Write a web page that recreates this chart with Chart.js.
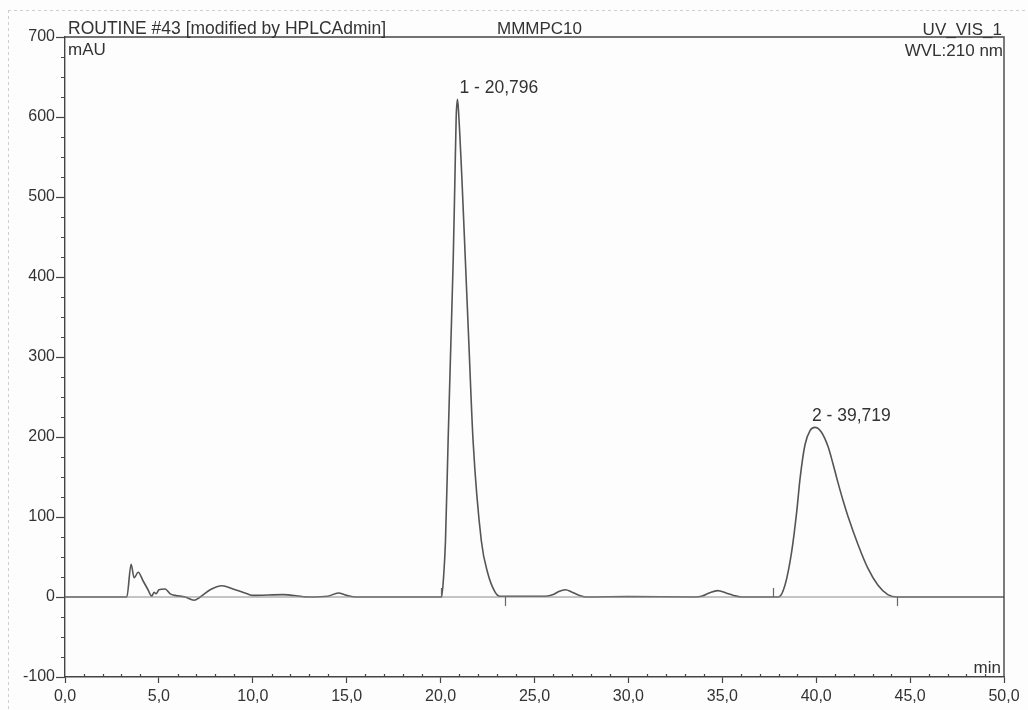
<!DOCTYPE html>
<html lang="en">
<head>
<meta charset="UTF-8" />
<title>ROUTINE #43 - MMMPC10</title>
<style>
  * { box-sizing: border-box; }
  html, body {
    margin: 0; padding: 0;
    background: #fdfdfd;
  }
  #wrap {
    position: relative;
    width: 1028px;
    height: 710px;
  }
</style>
</head>
<body>
<div id="wrap">
  <canvas id="chromChart" width="1028" height="710"></canvas>
</div>

<script src="https://cdn.jsdelivr.net/npm/chart.js"></script>
<script>
// retention time (min) and detector signal (mAU)
const retentionMin = [0, 3.29, 3.52, 3.68, 3.9, 4.16, 4.4, 4.62, 4.74, 4.85,
  5.0, 5.33, 5.6, 5.86, 6.4, 6.87, 7.2, 7.73, 8.36, 8.95,
  9.7, 10.0, 11.6, 13.0, 14.0, 14.55, 15.0, 15.5, 20.05, 20.17,
  20.26, 20.4, 20.55, 20.67, 20.76, 20.83, 20.9, 20.96, 21.14, 21.32,
  21.5, 21.73, 22.17, 22.52, 22.88, 23.14, 25.6, 26.0, 26.3, 26.65,
  27.0, 27.4, 27.8, 30.0, 33.5, 33.9, 34.3, 34.75, 35.2, 35.6,
  36.0, 38.0, 38.34, 38.69, 38.96, 39.14, 39.4, 39.67, 39.93, 40.28,
  40.63, 40.9, 41.16, 41.45, 41.69, 42.22, 42.75, 43.28, 43.81, 44.34, 50.0];
const signalMAU = [0, 0, 41, 24, 31, 20, 10, 1, 6, 4,
  9, 10, 4, 2, 0, -4, 0, 9, 14, 10,
  4, 2, 3, 0, 1, 5, 2, 0, 0, 29,
  70, 195, 320, 420, 520, 600, 622, 605, 520, 420,
  320, 195, 70, 29, 7, 1, 1, 3, 7, 9,
  6, 2, 0, 0.5, 0, 1, 5, 8, 5, 2,
  0, 0, 15, 56, 106, 148, 190, 208, 212, 206,
  188, 166, 143, 119, 101, 66, 36, 15, 3, 0, 0];

// zero line under the whole run
const zeroLineX = [0, 50];
const zeroLineY = [0, 0];

// peaks
const peakTimes = [20.9, 39.93];
const peakHeights = [622, 212];
const peakLabels = ['1 - 20,796', '2 - 39,719'];

// integration start / end markers
const markerTimes = [20.0, 23.45, 37.7, 44.3];
const markerUp = [true, false, true, false];

// axes
const xMin = 0, xMax = 50, xMajorStep = 5, xMinorStep = 1;
const yMin = -100, yMax = 700, yMajorStep = 100, yMinorStep = 25;

const headerLeft = 'ROUTINE #43 [modified by HPLCAdmin]';
const headerMid = 'MMMPC10';
const headerRight = 'UV_VIS_1';
const wavelength = 'WVL:210 nm';
const yUnit = 'mAU';
const xUnit = 'min';

const INK = '#444';
const FAMILY = '"Liberation Sans", Arial, sans-serif';

// frame, minor ticks, header texts, peak labels and markers
const chromDecor = {
  id: 'chromDecor',
  beforeDraw(chart) {
    const c = chart.ctx;
    c.save();
    c.fillStyle = '#fdfdfd';
    c.fillRect(0, 0, chart.width, chart.height);
    // scanned page edge
    c.strokeStyle = '#cfcfcf';
    c.lineWidth = 1;
    c.setLineDash([3, 3]);
    c.beginPath();
    c.moveTo(8, 10.5); c.lineTo(chart.width, 10.5);
    c.moveTo(8.5, 10); c.lineTo(8.5, chart.height);
    c.stroke();
    c.restore();
  },
  afterDraw(chart) {
    const c = chart.ctx;
    const a = chart.chartArea;
    const xs = chart.scales.x, ys = chart.scales.y;
    c.save();

    // top and right frame
    c.strokeStyle = INK;
    c.lineWidth = 1.4;
    c.beginPath();
    c.moveTo(a.left, a.top); c.lineTo(a.right, a.top); c.lineTo(a.right, a.bottom);
    c.stroke();

    // minor ticks
    c.lineWidth = 1.2;
    c.beginPath();
    for (let v = xMin; v <= xMax; v += xMinorStep) {
      if (v % xMajorStep === 0) continue;
      const px = Math.round(xs.getPixelForValue(v)) + 0.5;
      c.moveTo(px, a.bottom); c.lineTo(px, a.bottom - 3);
    }
    for (let v = yMin; v <= yMax; v += yMinorStep) {
      if (v % yMajorStep === 0) continue;
      const py = Math.round(ys.getPixelForValue(v)) + 0.5;
      c.moveTo(a.left, py); c.lineTo(a.left - 4, py);
    }
    c.stroke();

    // integration markers
    c.strokeStyle = '#666';
    c.lineWidth = 1.2;
    c.beginPath();
    markerTimes.forEach((t, i) => {
      const px = Math.round(xs.getPixelForValue(t)) + 0.5;
      const py = ys.getPixelForValue(0);
      c.moveTo(px, py);
      c.lineTo(px, markerUp[i] ? py - 9 : py + 9);
    });
    c.stroke();

    // texts
    c.fillStyle = '#333';
    c.textBaseline = 'alphabetic';
    c.textAlign = 'left';
    c.font = '17.5px ' + FAMILY;
    c.fillText(headerLeft, 68, 34);
    c.font = '17px ' + FAMILY;
    c.fillText(headerMid, 497, 34);
    c.fillText(yUnit, a.left + 3, 55);
    c.textAlign = 'right';
    c.fillText(headerRight, a.right - 2, 35);
    c.fillText(wavelength, a.right - 1, 56);
    c.fillText(xUnit, a.right - 3, a.bottom - 4);

    // peak labels
    c.textAlign = 'left';
    c.font = '17.5px ' + FAMILY;
    peakTimes.forEach((t, i) => {
      const px = xs.getPixelForValue(t);
      const py = ys.getPixelForValue(peakHeights[i]);
      c.fillText(peakLabels[i], px + (i === 0 ? 2 : -3), py - 6);
    });
    c.restore();
  }
};

const ctx = document.getElementById('chromChart').getContext('2d');

new Chart(ctx, {
  type: 'line',
  data: {
    datasets: [
      {
        label: 'zero',
        data: zeroLineX.map((x, i) => ({ x, y: zeroLineY[i] })),
        borderColor: '#8a8a8a',
        borderWidth: 1,
        pointRadius: 0
      },
      {
        label: headerRight,
        data: retentionMin.map((x, i) => ({ x, y: signalMAU[i] })),
        borderColor: '#555',
        borderWidth: 1.6,
        pointRadius: 0,
        cubicInterpolationMode: 'monotone'
      }
    ]
  },
  options: {
    responsive: false,
    animation: false,
    layout: { padding: { left: 5, right: 24, top: 37, bottom: 0 } },
    plugins: {
      legend: { display: false },
      tooltip: { enabled: false }
    },
    scales: {
      x: {
        type: 'linear',
        min: xMin,
        max: xMax,
        afterFit: s => { s.height = 33; },
        ticks: {
          stepSize: xMajorStep,
          color: '#333',
          font: { family: FAMILY, size: 16 },
          padding: 4,
          maxRotation: 0,
          autoSkip: false,
          callback: v => v.toFixed(1).replace('.', ',')
        },
        grid: { drawOnChartArea: false, tickLength: 6, tickColor: INK, tickWidth: 1.2 },
        border: { color: INK, width: 1.4 }
      },
      y: {
        min: yMin,
        max: yMax,
        afterFit: s => { s.width = 60; },
        ticks: {
          stepSize: yMajorStep,
          color: '#333',
          font: { family: FAMILY, size: 16 },
          padding: 1,
          autoSkip: false
        },
        grid: { drawOnChartArea: false, tickLength: 9, tickColor: INK, tickWidth: 1.2 },
        border: { color: INK, width: 1.4 }
      }
    }
  },
  plugins: [chromDecor]
});
</script>
</body>
</html>
